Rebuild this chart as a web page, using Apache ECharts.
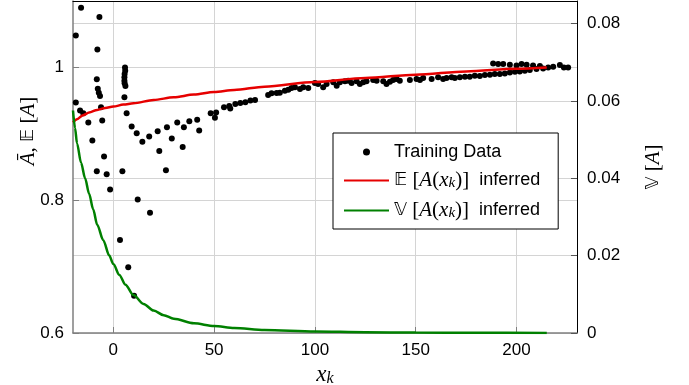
<!DOCTYPE html>
<html>
<head>
<meta charset="utf-8">
<script src="https://cdn.jsdelivr.net/npm/echarts@6/dist/echarts.min.js"></script>
<style>
  html, body { margin: 0; padding: 0; background: #fff; }
  #chart { width: 689px; height: 385px; }
</style>
</head>
<body>
<div id="chart"></div>
<script>
// training data
var trainX = [-18.6, -16, -6.9, -7.9, 5.8, 5.9, 5.6, 5.5, -8.2, 5.5, 5.6, 6.0, -7.7, -7.2, -6.6, 5.5,
  -18.6, -16.5, -14.9, -6.1, -12.4, -5.5, 6.6, 9.1, 11.6, 14.4, 17.8, 22, 22.8, 26.6, 29, 31.7, 34.4,
  35, 37.7, 41.6, 42.6, -10.4, -4.6, 48.3, 51, 50.4, 54.9, 57.5, 58, 60.5, 63, 65.5, 68, 70.3,
  -8.2, -3.3, 4.5, 26.1, -1.6, 12.1, 18.2, 3.3, 7.4, 10.3,
  76.8, 78.5, 81, 82.6, 85.1, 86.8, 88.4, 90.1, 92.6, 94.2, 96.7, 100, 101.6, 104.1, 105.8, 109.1,
  110.8, 112.4, 114.9, 116.5, 118.2, 120.7, 122.3, 124, 125.6, 128.9, 130.6, 133.9, 135.5, 137.2,
  138.8, 140.5, 142.1, 147.1, 150.4, 152.1, 153.7, 157.9, 161.1, 163.6, 165.3, 167.8, 169.4, 171.9,
  174.4, 176.8, 179.3, 181.8, 184.3, 186.8, 189.2, 191.7, 194.2, 196.7, 199.2, 201.6, 204.1, 206.6,
  209.9, 213.2, 215.7, 218.2, 221.5, 223.5, 225.6,
  188.4, 190.9, 193.4, 196.7, 200, 202.5, 205, 208.2, 211.6];
var trainY = [1.048, 1.09, 1.076, 1.027, 1.0, 0.995, 0.99, 0.985, 0.982, 0.98, 0.976, 0.972, 0.968, 0.962, 0.957, 0.955,
  0.947, 0.935, 0.931, 0.94, 0.917, 0.92, 0.931, 0.911, 0.901, 0.888, 0.896, 0.904, 0.874, 0.91, 0.893, 0.917, 0.88,
  0.91, 0.919, 0.921, 0.905, 0.89, 0.866, 0.931, 0.932, 0.924, 0.94, 0.942, 0.938, 0.945, 0.9465, 0.9475, 0.95, 0.951,
  0.8435, 0.839, 0.8435, 0.845, 0.816, 0.801, 0.781, 0.74, 0.699, 0.656,
  0.9585, 0.961, 0.9615, 0.962, 0.965, 0.9665, 0.969, 0.97, 0.9675, 0.97, 0.969, 0.9765, 0.975, 0.97, 0.975, 0.9775,
  0.9725, 0.9775, 0.979, 0.98, 0.9765, 0.979, 0.975, 0.9775, 0.979, 0.981, 0.98, 0.979, 0.975, 0.9785,
  0.981, 0.9825, 0.98, 0.981, 0.9825, 0.981, 0.984, 0.9825, 0.985, 0.9825, 0.984, 0.985, 0.984, 0.985,
  0.986, 0.986, 0.9875, 0.987, 0.9885, 0.989, 0.99, 0.99, 0.991, 0.9925, 0.9935, 0.994, 0.995, 0.996,
  0.9975, 0.9985, 1.0, 1.001, 1.0035, 1.0, 1.0,
  1.006, 1.005, 1.005, 1.004, 1.003, 1.005, 1.004, 1.003, 1.002];

// inferred mean (left axis)
var meanX = [-20, -18, -15, -12, -8, -4, 0, 5, 10, 20, 30, 40, 50, 60, 75, 100, 125, 150, 175, 200, 215];
var meanY = [0.917, 0.922, 0.928, 0.932, 0.936, 0.939, 0.941, 0.944, 0.946, 0.951, 0.955, 0.959, 0.963,
  0.966, 0.971, 0.978, 0.984, 0.989, 0.994, 0.998, 1.0];

// inferred variance (right axis)
var varX = [-20, -19, -18, -16, -14, -12, -10, -8, -5, -2, 0, 3, 6, 10, 15, 20, 25, 30, 40, 50, 60, 75,
  100, 125, 150, 180, 215];
var varY = [0.0575, 0.053, 0.049, 0.044, 0.040, 0.036, 0.032, 0.028, 0.024, 0.020, 0.0178, 0.015, 0.0125,
  0.0098, 0.0075, 0.0058, 0.0046, 0.0037, 0.0025, 0.0018, 0.0013, 0.0008, 0.0004, 0.0002, 0.0001, 0.00005, 0];

var xTicks = [0, 50, 100, 150, 200];

function pairs(xs, ys) {
  return xs.map(function (x, i) { return [x, ys[i]]; });
}

var rich = {
  it: { fontFamily: 'Liberation Serif', fontStyle: 'italic', fontSize: 21, color: '#000', lineHeight: 20 },
  rm: { fontFamily: 'Liberation Serif', fontSize: 21, color: '#000', lineHeight: 20 },
  bb: { fontFamily: 'DejaVu Sans', fontSize: 18, color: '#000', lineHeight: 20 },
  sub: { fontFamily: 'Liberation Serif', fontStyle: 'italic', fontSize: 15, color: '#000', lineHeight: 13, verticalAlign: 'bottom' },
  tx: { fontFamily: 'Liberation Sans', fontSize: 18, color: '#000', lineHeight: 20 },
  big: { fontFamily: 'Liberation Serif', fontStyle: 'italic', fontSize: 23, color: '#000', lineHeight: 22 },
  bigsub: { fontFamily: 'Liberation Serif', fontStyle: 'italic', fontSize: 16, color: '#000', lineHeight: 14, verticalAlign: 'bottom' }
};

var legendText = {
  'Training Data': '{tx|Training Data}',
  'E': '{bb|𝔼}{rm| [}{it|A}{rm|(}{it|x}{sub|k}{rm|)]}{tx|  inferred}',
  'V': '{bb|𝕍}{rm| [}{it|A}{rm|(}{it|x}{sub|k}{rm|)]}{tx|  inferred}'
};

var labelFont = { color: '#000', fontSize: 17, fontFamily: 'Liberation Sans' };

var chart = echarts.init(document.getElementById('chart'));
chart.setOption({
  animation: false,
  grid: { left: 73, right: 112, top: 1, bottom: 52, outerBoundsMode: 'none' },
  legend: {
    orient: 'vertical',
    left: 333, top: 133,
    padding: [10, 18, 8, 10],
    itemGap: 9,
    itemWidth: 45,
    itemHeight: 7,
    itemTextGap: 8,
    backgroundColor: '#fff',
    borderColor: '#000',
    borderWidth: 1,
    borderRadius: 0,
    data: [
      { name: 'Training Data', itemStyle: { opacity: 1 } },
      { name: 'E', itemStyle: { opacity: 0 } },
      { name: 'V', itemStyle: { opacity: 0 } }
    ],
    formatter: function (name) { return legendText[name]; },
    textStyle: { rich: rich }
  },
  xAxis: [{
    type: 'value', min: -20, max: 230, position: 'bottom',
    axisLine: { onZero: false, lineStyle: { color: '#7f7f7f', width: 1.5 } },
    axisTick: { inside: true, length: 6, customValues: xTicks, lineStyle: { color: '#7f7f7f' } },
    axisLabel: Object.assign({ customValues: xTicks, margin: 9 }, labelFont),
    splitLine: { show: true, lineStyle: { color: '#d4d4d4', width: 1 } },
    name: '{big|x}{bigsub|k}', nameLocation: 'middle', nameGap: 17,
    nameTextStyle: { rich: rich }
  }, {
    type: 'value', min: -20, max: 230, position: 'top',
    axisLine: { onZero: false, lineStyle: { color: '#000', width: 1 } },
    axisTick: { show: false }, axisLabel: { show: false }, splitLine: { show: false }
  }],
  yAxis: [{
    type: 'value', min: 0.6, max: 1.1, interval: 0.2, position: 'left',
    axisLine: { show: true, onZero: false, lineStyle: { color: '#7f7f7f', width: 1.5 } },
    axisTick: { show: true, inside: true, length: 6, lineStyle: { color: '#7f7f7f' } },
    axisLabel: Object.assign({ margin: 9, showMaxLabel: false }, labelFont),
    splitLine: { show: true, lineStyle: { color: '#d4d4d4', width: 1 } },
    name: '{it|Ā}{rm|, }{bb|𝔼}{rm| [}{it|A}{rm|]}', nameLocation: 'middle', nameRotate: 90, nameGap: 35,
    nameMoveOverlap: false,
    nameTextStyle: { rich: rich, padding: [0, 0, 0, 72] }
  }, {
    type: 'value', min: 0, max: 0.0858, interval: 0.02, position: 'right',
    axisLine: { show: true, onZero: false, lineStyle: { color: '#000', width: 1 } },
    axisTick: { show: true, inside: true, length: 6, lineStyle: { color: '#555' } },
    axisLabel: Object.assign({ margin: 10, showMaxLabel: false }, labelFont),
    splitLine: { show: true, lineStyle: { color: '#d4d4d4', width: 1 } },
    name: '{bb|𝕍}{rm| [}{it|A}{rm|]}', nameLocation: 'middle', nameRotate: 90, nameGap: 66,
    nameTextStyle: { rich: rich }
  }],
  series: [{
    name: 'Training Data', type: 'scatter', xAxisIndex: 0, yAxisIndex: 0,
    symbolSize: 6, itemStyle: { color: '#000', opacity: 1 },
    data: pairs(trainX, trainY)
  }, {
    name: 'E', type: 'line', xAxisIndex: 0, yAxisIndex: 0,
    symbol: 'none', smooth: 0.3, smoothMonotone: 'x',
    lineStyle: { color: '#e60000', width: 2.5 }, itemStyle: { color: '#e60000' },
    data: pairs(meanX, meanY)
  }, {
    name: 'V', type: 'line', xAxisIndex: 0, yAxisIndex: 1,
    symbol: 'none', smooth: 0.3, smoothMonotone: 'x',
    lineStyle: { color: '#008000', width: 2.5 }, itemStyle: { color: '#008000' },
    data: pairs(varX, varY)
  }]
});
</script>
</body>
</html>
